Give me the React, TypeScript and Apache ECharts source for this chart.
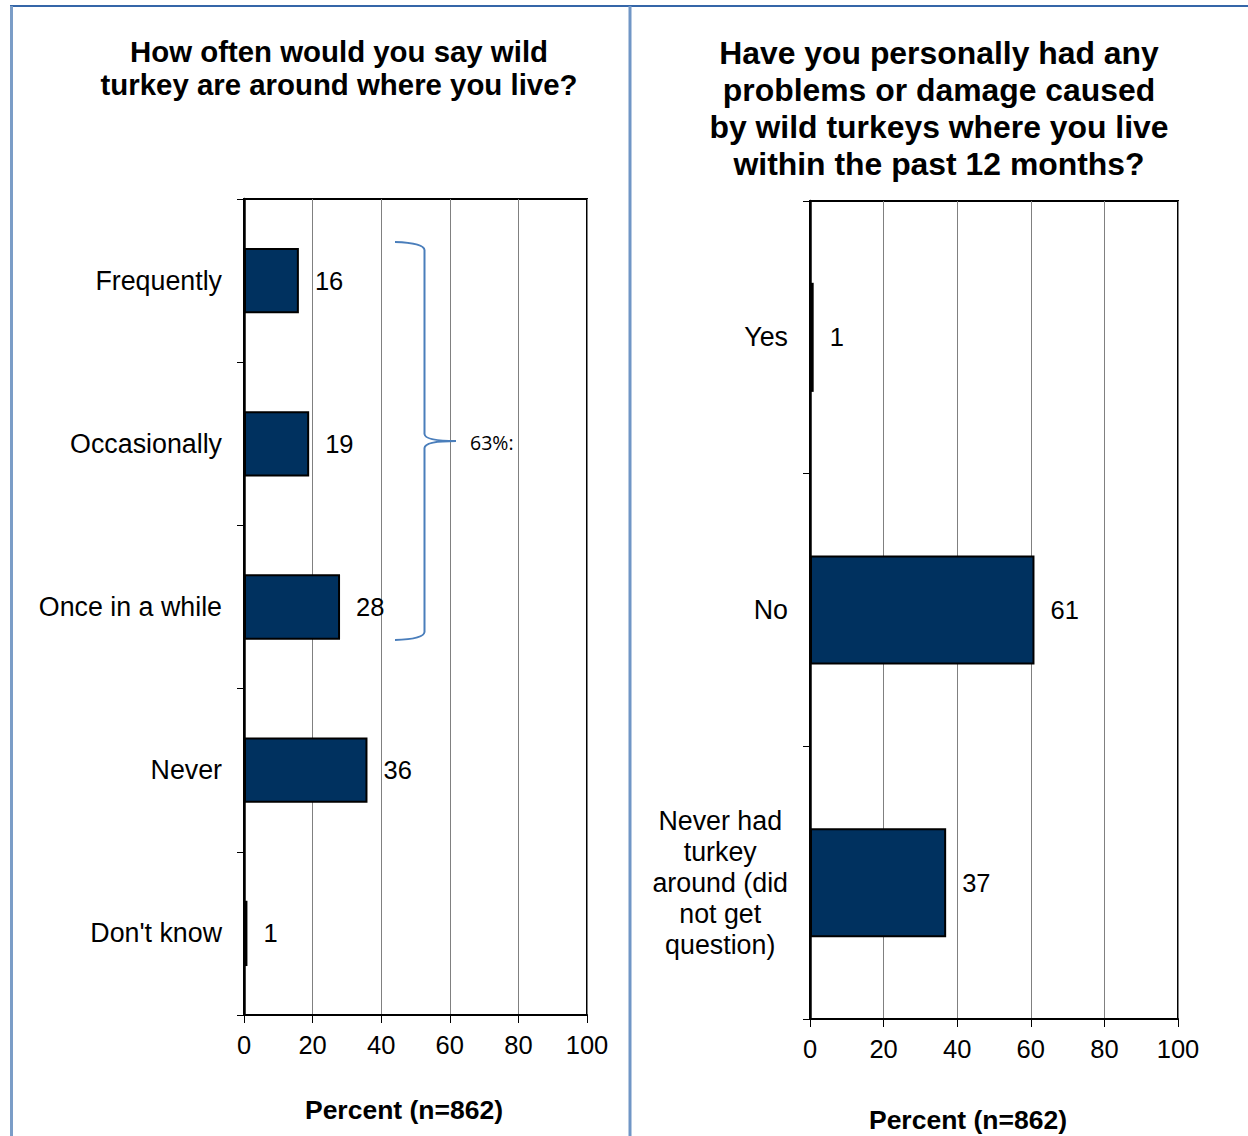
import React, { useEffect, useRef } from "react";
import * as echarts from "echarts";

const leftCategories = ["Frequently", "Occasionally", "Once in a while", "Never", "Don't know"];
const leftValues = [16, 19, 28, 36, 1];
const rightCategories = ["Yes", "No", "Never had\nturkey\naround (did\nnot get\nquestion)"];
const rightValues = [1, 61, 37];
const xTicks = [0, 20, 40, 60, 80, 100];
const leftTitle = "How often would you say wild\nturkey are around where you live?";
const rightTitle =
  "Have you personally had any\nproblems or damage caused\nby wild turkeys where you live\nwithin the past 12 months?";
const axisName = "Percent (n=862)";
const braceLabel = "63%:";

const FONT = "'Liberation Sans', Arial, sans-serif";
const BAR = "#00315f";

const bracePath =
  "M395 242 Q424 243 424.5 250 L424.5 434 Q425 441 456 441 Q425 441 424.5 448 L424.5 632 Q424 639 395 640";

export default function App() {
  const ref = useRef<HTMLDivElement>(null);
  useEffect(() => {
    if (!ref.current) return;
    echarts.graphic.registerShape("brace", echarts.graphic.extendPath(bracePath, {}) as any);
    const chart = echarts.init(ref.current, null, { renderer: "svg" });

    const xAxisCommon = (gridIndex: number) => ({
      type: "value",
      gridIndex,
      min: xTicks[0],
      max: xTicks[xTicks.length - 1],
      interval: xTicks[1] - xTicks[0],
      axisLine: { show: true, lineStyle: { color: "#000", width: 2 } },
      axisTick: { show: true, length: 8, lineStyle: { color: "#000", width: 1 } },
      axisLabel: { fontFamily: FONT, fontSize: 25.5, color: "#000", margin: 17 },
      splitLine: { show: true, lineStyle: { color: "#808080", width: 1 } },
    });

    const yAxisCommon = (gridIndex: number, data: string[]) => ({
      type: "category",
      gridIndex,
      data,
      inverse: true,
      axisLine: { show: true, lineStyle: { color: "#000", width: 2.5 } },
      axisTick: { show: true, length: 7, alignWithLabel: false, lineStyle: { color: "#000", width: 1 } },
      axisLabel: {
        margin: 22,
        color: "#000",
        formatter: (v: string) =>
          v
            .split("\n")
            .map((s) => "{c|" + s + "}")
            .join("\n"),
        rich: {
          c: { fontFamily: FONT, fontSize: 26.8, color: "#000", lineHeight: 31, align: "center" },
        },
      },
      splitLine: { show: false },
    });

    const barSeries = (idx: number, data: number[]) => ({
      type: "bar",
      xAxisIndex: idx,
      yAxisIndex: idx,
      data,
      barWidth: "40%",
      itemStyle: { color: BAR, borderColor: "#000", borderWidth: 2 },
      label: {
        show: true,
        position: "right",
        distance: 16,
        fontFamily: FONT,
        fontSize: 25.5,
        color: "#000",
      },
    });

    const titleStyle = (size: number, lh: number) => ({
      fontFamily: FONT,
      fontSize: size,
      fontWeight: "bold",
      color: "#000",
      lineHeight: lh,
    });

    chart.setOption({
      animation: false,
      backgroundColor: "#fff",
      title: [
        { text: leftTitle, left: 339, top: 35, textAlign: "center", padding: 0, textStyle: titleStyle(29.4, 33) },
        { text: rightTitle, left: 939, top: 34, textAlign: "center", padding: 0, textStyle: titleStyle(31.9, 37) },
        { text: axisName, left: 404, top: 1096, textAlign: "center", padding: 0, textStyle: titleStyle(26.5, 28) },
        { text: axisName, left: 968, top: 1106, textAlign: "center", padding: 0, textStyle: titleStyle(26.5, 28) },
      ],
      grid: [
        { left: 244, top: 199, width: 343, height: 816, show: true, borderColor: "#000", borderWidth: 2, backgroundColor: "transparent" },
        { left: 810, top: 201, width: 368, height: 818, show: true, borderColor: "#000", borderWidth: 2, backgroundColor: "transparent" },
      ],
      xAxis: [xAxisCommon(0), xAxisCommon(1)],
      yAxis: [yAxisCommon(0, leftCategories), yAxisCommon(1, rightCategories)],
      series: [barSeries(0, leftValues), barSeries(1, rightValues)],
      graphic: [
        { type: "line", shape: { x1: 10, y1: 6, x2: 1248, y2: 6 }, style: { stroke: "#3566a8", lineWidth: 2 }, z: 10 },
        { type: "rect", shape: { x: 10, y: 6, width: 3, height: 1130 }, style: { fill: "#7b9dc7" }, z: 10 },
        { type: "rect", shape: { x: 628.5, y: 6, width: 3, height: 1130 }, style: { fill: "#7096c6" }, z: 10 },
        { type: "brace", x: 0, y: 0, style: { fill: "none", stroke: "#4a7ebb", lineWidth: 2 }, z: 10 },
        {
          type: "text",
          x: 470,
          y: 442,
          style: { text: braceLabel, fontFamily: "'Open Sans', sans-serif", fontSize: 19.5, fill: "#000", verticalAlign: "middle" },
          z: 10,
        },
      ],
    });
    return () => chart.dispose();
  }, []);
  return <div ref={ref} style={{ position: "absolute", left: 0, top: 0, width: 1248, height: 1136 }} />;
}
